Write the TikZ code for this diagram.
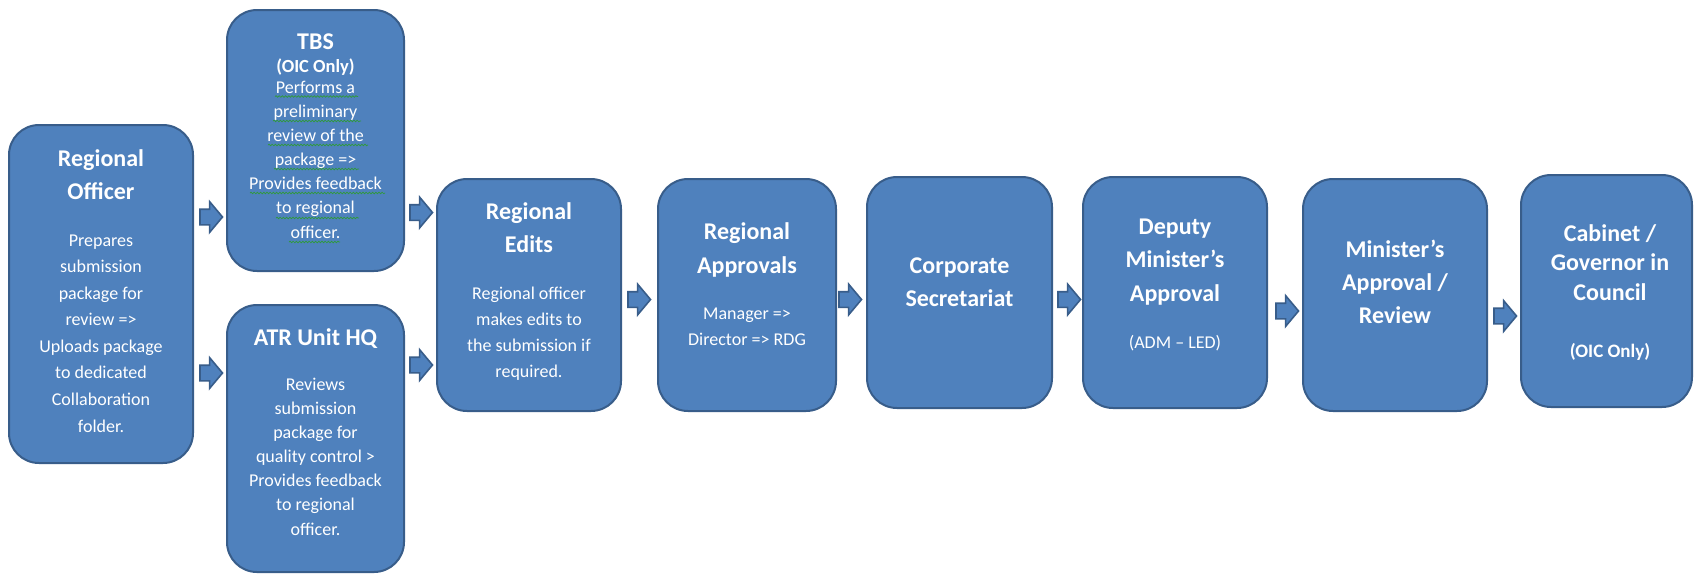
\documentclass[tikz,border=0pt]{standalone}
\usepackage{fontspec}
\setmainfont{Carlito}
\usetikzlibrary{shapes.arrows,decorations.pathmorphing}
\definecolor{boxfill}{HTML}{4F81BD}
\definecolor{boxline}{HTML}{385D8A}
\definecolor{squiggreen}{HTML}{2F9A3A}
\newcommand\fa{\rule{0pt}{20pt}}
\newcommand\fb{\rule{0pt}{15pt}}
\begin{document}
\begin{tikzpicture}[x=1pt,y=-1pt,
  box/.style={draw=boxline, fill=boxfill, line width=2pt, rounded corners=30pt, inner sep=0pt, outer sep=0pt},
  ttl/.style={text=white, align=center, anchor=north, inner sep=0pt, outer sep=0pt, font=\bfseries\fontsize{24}{33}\selectfont},
  oic/.style={text=white, align=center, anchor=north, inner sep=0pt, outer sep=0pt, font=\bfseries\fontsize{18.5}{24}\selectfont},
  bdy/.style={text=white, align=center, anchor=north, inner sep=0pt, outer sep=0pt, font=\fontsize{18}{26.5}\selectfont},
  barrow/.style={single arrow, draw=boxline, fill=boxfill, line width=1.6pt, minimum height=22.5pt, minimum width=0pt, inner xsep=0pt, inner ysep=7pt, single arrow head extend=7.5pt, single arrow tip angle=100, outer sep=0pt, anchor=tail},
  squig/.style={draw=squiggreen, line width=0.7pt, decorate, decoration={snake, amplitude=0.8pt, segment length=3.2pt}}
]
\useasboundingbox (0,0) rectangle (1694,574);
\fill[white] (0,0) rectangle (1694,574);
\clip (0,0) rectangle (1694,574);

% boxes
\node[box, minimum width=184pt, minimum height=338pt] (ro) at (101,294) {};
\node[box, minimum width=177pt, minimum height=261pt] (tbs) at (315.5,140.5) {};
\node[box, minimum width=177pt, minimum height=267pt] (atr) at (315.5,438.5) {};
\node[box, minimum width=184pt, minimum height=232pt] (ed) at (529,295) {};
\node[box, minimum width=178pt, minimum height=232pt] (ap) at (747,295) {};
\node[box, minimum width=185pt, minimum height=231pt] (co) at (959.5,292.5) {};
\node[box, minimum width=184pt, minimum height=231pt] (de) at (1175,292.5) {};
\node[box, minimum width=184pt, minimum height=232pt] (mi) at (1395,295) {};
\node[box, minimum width=171pt, minimum height=232pt] (ca) at (1606.5,291) {};

% texts
\node[ttl] (ro-t) at (101,146) {\fa Regional\\Officer};
\node[bdy, font=\fontsize{18}{26.57}\selectfont] (ro-b) at (101,231) {\fb Prepares\\submission\\package for\\review =>\\Uploads package\\to dedicated\\Collaboration\\folder.};

\node[ttl] (tbs-t) at (315.5,29) {\fa TBS};
\node[oic] (tbs-o) at (315.5,57) {\fb (OIC Only)};
\node[bdy, font=\fontsize{18}{24.17}\selectfont] (tbs-b) at (315.5,78) {\fb Performs a\\preliminary\\review of the\\package =>\\Provides feedback\\to regional\\officer.};

\node[ttl] (atr-t) at (315.5,325) {\fa ATR Unit HQ};
\node[bdy, font=\fontsize{18}{24.17}\selectfont] (atr-b) at (315.5,375) {\fb Reviews\\submission\\package for\\quality control >\\Provides feedback\\to regional\\officer.};

\node[ttl] (ed-t) at (529,199) {\fa Regional\\Edits};
\node[bdy, font=\fontsize{18}{26.33}\selectfont] (ed-b) at (529,284) {\fb Regional officer\\makes edits to\\the submission if\\required.};

\node[ttl, font=\bfseries\fontsize{24}{34}\selectfont] (ap-t) at (747,219) {\fa Regional\\Approvals};
\node[bdy, font=\fontsize{18}{26}\selectfont] (ap-b) at (747,304) {\fb Manager =>\\Director => RDG};

\node[ttl] (co-t) at (959.5,253) {\fa Corporate\\Secretariat};

\node[ttl, font=\bfseries\fontsize{24}{33.5}\selectfont] (de-t) at (1175,214) {\fa Deputy\\Minister’s\\Approval};
\node[bdy] (de-b) at (1175,333) {\fb (ADM – LED)};

\node[ttl] (mi-t) at (1395,237) {\fa Minister’s\\Approval /\\Review};

\node[ttl, font=\bfseries\fontsize{24}{29.5}\selectfont] (ca-t) at (1610,221) {\fa Cabinet /\\Governor in\\Council};
\node[oic, font=\bfseries\fontsize{19}{24}\selectfont] (ca-o) at (1610,342) {\fb (OIC Only)};

% spell-check squiggles under TBS text
\draw[squig] (275,96.5) -- (358,96.5);
\draw[squig] (273,121) -- (361,121);
\draw[squig] (268,145) -- (368,145);
\draw[squig] (274,169) -- (359,169);
\draw[squig] (250,193) -- (385,193);
\draw[squig] (276,218) -- (359,218);
\draw[squig] (289,242) -- (340,242);

% block arrows
\node[barrow] (a1) at (200,217) {};
\node[barrow] (a2) at (200,373) {};
\node[barrow] (a3) at (410,212.5) {};
\node[barrow] (a4) at (410,365) {};
\node[barrow] (a5) at (628,299.5) {};
\node[barrow] (a6) at (839,299.5) {};
\node[barrow] (a7) at (1058,299.5) {};
\node[barrow] (a8) at (1276,311) {};
\node[barrow] (a9) at (1494,316) {};
\end{tikzpicture}
\end{document}
